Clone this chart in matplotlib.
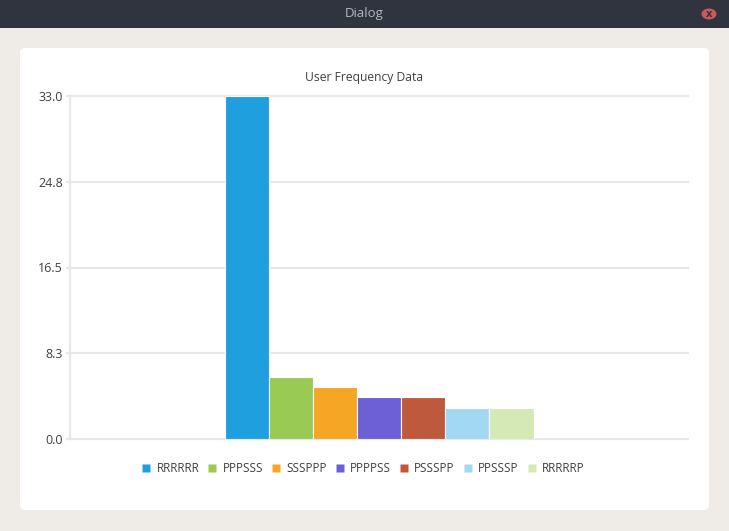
import numpy as np
import matplotlib
matplotlib.use("Agg")
from matplotlib import pyplot as plt
from matplotlib.patches import FancyBboxPatch, Rectangle, Circle
from matplotlib.lines import Line2D

# chart data
categories = ["RRRRRR", "PPPSSS", "SSSPPP", "PPPPSS", "PSSSPP", "PPSSSP", "RRRRRP"]
counts = [33, 6, 5, 4, 4, 3, 3]
colors = ["#209fdf", "#99ca53", "#f6a625", "#6d5fd5", "#bf593e", "#a2d8f2", "#d5e9b6"]
y_max = 33.0
y_tick_labels = ["0.0", "8.3", "16.5", "24.8", "33.0"]

W, H = 729, 531
plt.rcParams['font.family'] = ['Open Sans', 'DejaVu Sans']
fig = plt.figure(figsize=(W / 100, H / 100), dpi=100)
fig.patch.set_facecolor("#efebe7")


def fx(px):
    return px / W


def fy(py):
    return 1 - py / H


# window title bar
fig.patches.append(Rectangle((0, fy(28)), 1, 28 / H, transform=fig.transFigure,
                             facecolor="#2f343f", edgecolor="none", zorder=0))
fig.text(0.5, fy(14), "Dialog", color="#b0b8c4", fontsize=9.5, ha="center", va="center")
fig.patches.append(Circle((fx(709), fy(14)), 7.5 / W, transform=fig.transFigure,
                          facecolor="#cc575d", edgecolor="none", zorder=1))
fig.text(fx(709), fy(14.5), "x", color="#2f343f", fontsize=8, ha="center", va="center",
         fontweight="bold", zorder=2)

# white card
fig.patches.append(FancyBboxPatch((fx(20), fy(510)), (709 - 20) / W, (510 - 48) / H,
                                  boxstyle="round,pad=0,rounding_size=0.008",
                                  transform=fig.transFigure, facecolor="white",
                                  edgecolor="none", zorder=0))

ax = fig.add_axes([fx(70), fy(439), (688 - 70) / W, (439 - 96) / H])
ax.set_facecolor("none")
ax.set_zorder(3)

n = len(categories)
bw = 0.5 / n
xs = -0.25 + bw * (np.arange(n) + 0.5)
for i in range(n):
    ax.bar(xs[i], counts[i], width=bw, color=colors[i], edgecolor="white",
           linewidth=0.8, zorder=3, label=categories[i])

ax.set_xlim(-0.5, 0.5)
ax.set_ylim(0, y_max)
ticks = np.linspace(0, y_max, len(y_tick_labels))
ax.set_yticks(ticks)
ax.set_yticklabels(y_tick_labels)
ax.set_xticks([])
for t in ticks:
    ax.axhline(t, color="#e8e8e8", linewidth=1.6, zorder=1, clip_on=False)
for s in ["top", "right", "bottom"]:
    ax.spines[s].set_visible(False)
ax.spines["left"].set_color("#e8e8e8")
ax.spines["left"].set_linewidth(1.6)
ax.tick_params(axis="y", length=3, width=1.6, color="#e8e8e8", labelsize=9,
               labelcolor="#404040", pad=2)

fig.text(fx(364), fy(77), "User Frequency Data", fontsize=8.7, color="#404040",
         ha="center", va="center", zorder=4)

handles = [Line2D([], [], marker="s", linestyle="none", markersize=6,
                  markerfacecolor=c, markeredgecolor="none") for c in colors]
leg = fig.legend(handles, categories, loc="center", bbox_to_anchor=(fx(363), fy(469)),
                 ncol=n, frameon=False, fontsize=8.5, labelcolor="#404040",
                 handlelength=0.8, handletextpad=0.45, columnspacing=0.72)
leg.set_zorder(4)

fig.savefig("out.png", dpi=100, facecolor=fig.get_facecolor())
